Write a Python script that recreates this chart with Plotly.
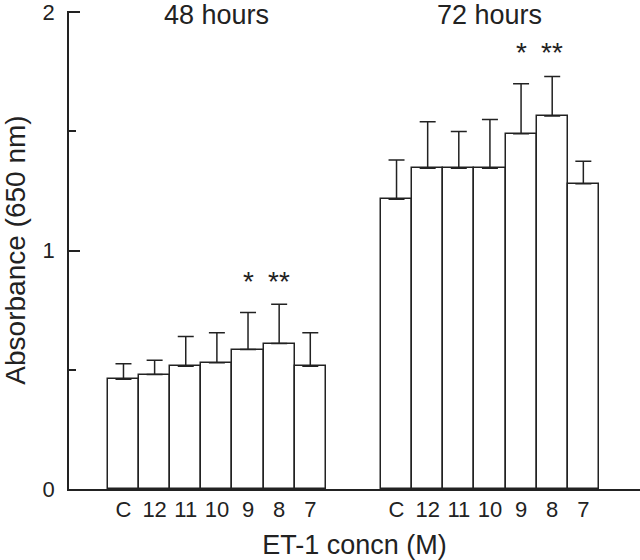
import plotly.graph_objects as go

# ET-1 concentration labels (-log M), C = control
conc = ["C", "12", "11", "10", "9", "8", "7"]

abs_48h = [0.46, 0.48, 0.515, 0.53, 0.585, 0.61, 0.515]
err_48h = [0.065, 0.06, 0.125, 0.125, 0.155, 0.165, 0.14]

abs_72h = [1.215, 1.345, 1.345, 1.345, 1.49, 1.565, 1.28]
err_72h = [0.165, 0.195, 0.155, 0.205, 0.21, 0.165, 0.095]

groups = ["48 hours", "72 hours"]
signif = {"9": "*", "8": "**"}

FONT = "Liberation Sans, Arial, Helvetica, sans-serif"
INK = "#222222"
GAP = 8.77  # offset of second group on the x axis

x48 = [i for i in range(len(conc))]
x72 = [i + GAP for i in range(len(conc))]

fig = go.Figure()
for xs, ys, es in [(x48, abs_48h, err_48h), (x72, abs_72h, err_72h)]:
    fig.add_trace(go.Bar(
        x=xs, y=ys, width=1,
        marker=dict(color="white", line=dict(color=INK, width=1.5)),
        error_y=dict(type="data", symmetric=False, array=es,
                     arrayminus=[0] * len(es), color=INK, thickness=1.5, width=8),
        showlegend=False, cliponaxis=False,
    ))

# group titles
for xs, name in zip([x48, x72], groups):
    fig.add_annotation(x=(xs[0] + xs[-1]) / 2, y=2, yref="y", text=name,
                       showarrow=False, yanchor="middle", yshift=-3,
                       font=dict(family=FONT, size=27, color=INK))

# significance stars
for xs, level in [(x48, 0.887), (x72, 1.849)]:
    for k, s in signif.items():
        fig.add_annotation(x=xs[conc.index(k)], y=level, text=s, showarrow=False,
                           yanchor="middle", yshift=-4,
                           font=dict(family=FONT, size=28, color=INK))

fig.update_layout(
    width=640, height=560,
    margin=dict(l=69, r=0, t=11, b=71),
    paper_bgcolor="white", plot_bgcolor="white",
    bargap=0,
    font=dict(family=FONT, size=22, color=INK),
    xaxis=dict(
        range=[-1.75, 16.59], automargin=False,
        tickvals=x48 + x72, ticktext=conc + conc,
        showline=True, linecolor=INK, linewidth=1.5,
        ticks="", showgrid=False, zeroline=False,
        title=dict(text="ET-1 concn (M)", font=dict(size=27), standoff=15),
        tickfont=dict(size=22),
    ),
    yaxis=dict(
        range=[0, 2.005], tickvals=[0, 1, 2], automargin=False,
        ticklabeloverflow="allow",
        showline=True, linecolor=INK, linewidth=1.5,
        ticks="inside", ticklen=11, tickwidth=1.5, tickcolor=INK,
        minor=dict(dtick=0.5, ticks="inside", ticklen=7, tickwidth=1.5, tickcolor=INK),
        showgrid=False, zeroline=False,
        ticklabelstandoff=8,
        tickfont=dict(size=22),
        title=dict(text="Absorbance (650 nm)", font=dict(size=28), standoff=12),
    ),
)

fig.write_html("out.html", config={"displayModeBar": False},
               post_script="document.body.style.margin='0';")
